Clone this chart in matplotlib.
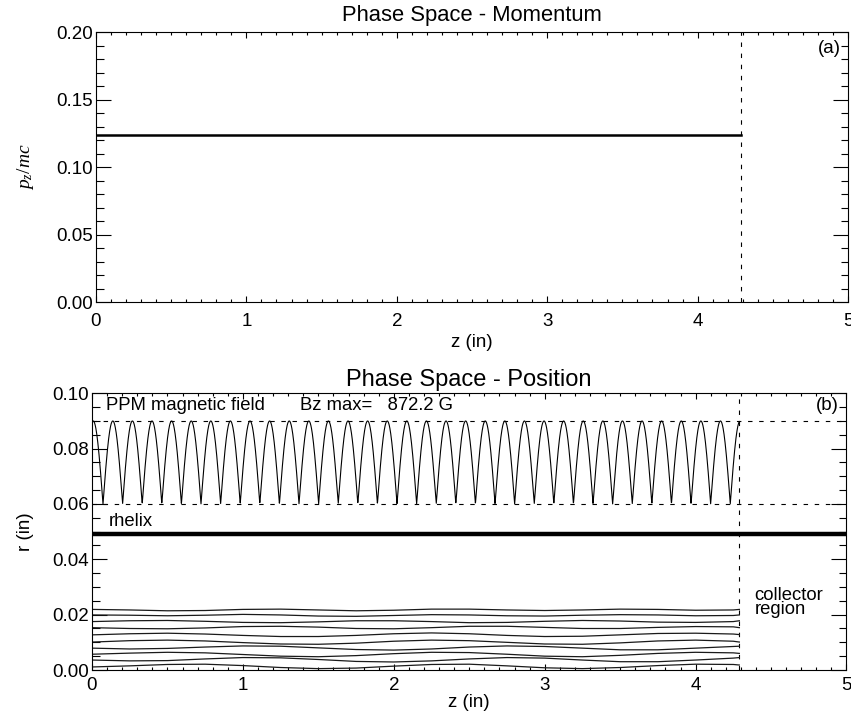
import numpy as np
import matplotlib
matplotlib.use("Agg")
import matplotlib.pyplot as plt
from matplotlib.ticker import MultipleLocator, FormatStrFormatter

plt.rcParams['font.family'] = ['Liberation Sans', 'DejaVu Sans']
plt.rcParams['mathtext.fontset'] = 'custom'
plt.rcParams['mathtext.it'] = 'Liberation Serif:italic'
plt.rcParams['mathtext.rm'] = 'Liberation Serif'

# ---------------- data ----------------
z_end = 4.29                      # end of interaction region (dashed line)
pz_mc = 0.1235                    # normalized axial momentum (panel a)

# PPM magnetic field profile (panel b)
ppm_r_max = 0.090
ppm_r_min = 0.060
ppm_half_period = 0.1299
ppm_first_peak = 0.008
bz_max_text = "Bz max=   872.2 G"

r_helix = 0.0492

traj_z = [0.0, 0.25, 0.5, 0.75, 1.0, 1.25, 1.5, 1.75, 2.0, 2.25, 2.5, 2.75,
          3.0, 3.25, 3.5, 3.75, 4.0, 4.25, 4.29]
traj_1 = [0.0219, 0.0217, 0.0214, 0.0215, 0.0219, 0.0220, 0.0217, 0.0214, 0.0216, 0.0220,
          0.0220, 0.0217, 0.0215, 0.0217, 0.0220, 0.0219, 0.0216, 0.0217, 0.0219]
traj_2 = [0.0199, 0.0198, 0.0196, 0.0198, 0.0201, 0.0199, 0.0195, 0.0194, 0.0197, 0.0200,
          0.0199, 0.0196, 0.0195, 0.0198, 0.0200, 0.0199, 0.0196, 0.0197, 0.0199]
traj_3 = [0.0175, 0.0178, 0.0179, 0.0176, 0.0172, 0.0171, 0.0174, 0.0178, 0.0178, 0.0175,
          0.0171, 0.0172, 0.0176, 0.0179, 0.0177, 0.0173, 0.0172, 0.0175, 0.0178]
traj_4 = [0.0153, 0.0150, 0.0149, 0.0152, 0.0157, 0.0158, 0.0155, 0.0150, 0.0149, 0.0153,
          0.0158, 0.0158, 0.0154, 0.0150, 0.0150, 0.0154, 0.0157, 0.0156, 0.0153]
traj_5 = [0.0127, 0.0131, 0.0133, 0.0130, 0.0125, 0.0121, 0.0121, 0.0125, 0.0131, 0.0134,
          0.0131, 0.0125, 0.0121, 0.0122, 0.0127, 0.0132, 0.0133, 0.0130, 0.0128]
traj_6 = [0.0101, 0.0106, 0.0108, 0.0105, 0.0099, 0.0094, 0.0093, 0.0097, 0.0104, 0.0108,
          0.0106, 0.0100, 0.0094, 0.0093, 0.0098, 0.0105, 0.0108, 0.0104, 0.0101]
traj_7 = [0.0079, 0.0076, 0.0078, 0.0083, 0.0087, 0.0086, 0.0080, 0.0074, 0.0072, 0.0076,
          0.0083, 0.0087, 0.0085, 0.0079, 0.0073, 0.0073, 0.0079, 0.0085, 0.0086]
traj_8 = [0.0057, 0.0061, 0.0064, 0.0062, 0.0056, 0.0050, 0.0048, 0.0052, 0.0059, 0.0064,
          0.0063, 0.0057, 0.0050, 0.0048, 0.0053, 0.0060, 0.0064, 0.0062, 0.0060]
traj_9 = [0.0036, 0.0033, 0.0034, 0.0040, 0.0045, 0.0044, 0.0038, 0.0031, 0.0029, 0.0033,
          0.0040, 0.0045, 0.0043, 0.0036, 0.0030, 0.0030, 0.0036, 0.0043, 0.0045]
traj_10 = [0.0011, 0.0015, 0.0020, 0.0021, 0.0016, 0.0009, 0.0005, 0.0007, 0.0014, 0.0020,
           0.0021, 0.0015, 0.0008, 0.0005, 0.0009, 0.0016, 0.0021, 0.0020, 0.0018]
trajectories = [traj_1, traj_2, traj_3, traj_4, traj_5, traj_6, traj_7, traj_8, traj_9, traj_10]

x_ticks = [0, 1, 2, 3, 4, 5]
top_y_ticks = [0.00, 0.05, 0.10, 0.15, 0.20]
bot_y_ticks = [0.00, 0.02, 0.04, 0.06, 0.08, 0.10]

# ---------------- figure ----------------
fig = plt.figure(figsize=(8.51, 7.13), dpi=100)
ax1 = fig.add_axes([0.1128, 0.5764, 0.8837, 0.3787])
ax2 = fig.add_axes([0.1081, 0.0603, 0.8866, 0.3881])

DASH = (0, (4, 6))
TICKFS = 13.5
TEXTFS = 13.3


def style(ax, ymin, ymax, yticks, yminor, xpad, xlabelpad):
    ax.set_xlim(0, 5)
    ax.set_ylim(ymin, ymax)
    ax.set_xticks(x_ticks)
    ax.set_yticks(yticks)
    ax.xaxis.set_minor_locator(MultipleLocator(0.1))
    ax.yaxis.set_minor_locator(MultipleLocator(yminor))
    ax.yaxis.set_major_formatter(FormatStrFormatter('%.2f'))
    ax.tick_params(which='both', direction='in', top=True, right=True,
                   labelsize=TICKFS, width=0.8)
    ax.tick_params(axis='y', which='major', length=10.8, pad=2)
    ax.tick_params(axis='y', which='minor', length=5.4)
    ax.tick_params(axis='x', which='major', length=4.0, pad=xpad)
    ax.tick_params(axis='x', which='minor', length=2.0)
    for s in ax.spines.values():
        s.set_linewidth(0.8)
    ax.set_xlabel('z (in)', fontsize=TICKFS, labelpad=xlabelpad)


# ----- panel (a) -----
style(ax1, 0.0, 0.20, top_y_ticks, 0.01, 8, 3)
ax1.plot([0, z_end], [pz_mc, pz_mc], color='black', lw=1.8)
ax1.axvline(z_end, color='black', lw=0.8, ls=DASH)
ax1.set_title('Phase Space - Momentum', fontsize=15.8, pad=8)
ax1.set_ylabel(r'$p_z/mc$', fontsize=14, labelpad=15)
ax1.text(4.95, 0.194, '(a)', ha='right', va='top', fontsize=TICKFS)

# ----- panel (b) -----
style(ax2, 0.0, 0.10, bot_y_ticks, 0.005, 5, 0)
zz = np.linspace(0, z_end, 3000)
ppm = ppm_r_min + (ppm_r_max - ppm_r_min) * np.abs(
    np.cos(np.pi * (zz - ppm_first_peak) / ppm_half_period))
ax2.plot(zz, ppm, color='black', lw=0.8)
ax2.axhline(ppm_r_max, color='black', lw=0.8, ls=DASH)
ax2.axhline(ppm_r_min, color='black', lw=0.8, ls=DASH)
ax2.axvline(z_end, color='black', lw=0.8, ls=DASH)
ax2.axhline(r_helix, color='black', lw=3.2)
for tr in trajectories:
    ax2.plot(traj_z, tr, color='#1a1a1a', lw=0.9)

ax2.set_title('Phase Space - Position', fontsize=17, pad=5)
ax2.set_ylabel('r (in)', fontsize=TICKFS, labelpad=13)
ax2.text(0.09, 0.0955, 'PPM magnetic field', ha='left', va='center', fontsize=TEXTFS)
ax2.text(1.38, 0.0955, bz_max_text, ha='left', va='center', fontsize=TEXTFS)
ax2.text(0.11, 0.0535, 'rhelix', ha='left', va='center', fontsize=TEXTFS)
ax2.text(4.39, 0.0245, 'collector\nregion', ha='left', va='center',
         fontsize=TEXTFS, linespacing=0.8)
ax2.text(4.95, 0.0985, '(b)', ha='right', va='top', fontsize=TICKFS)

fig.savefig('out.png', dpi=100)
